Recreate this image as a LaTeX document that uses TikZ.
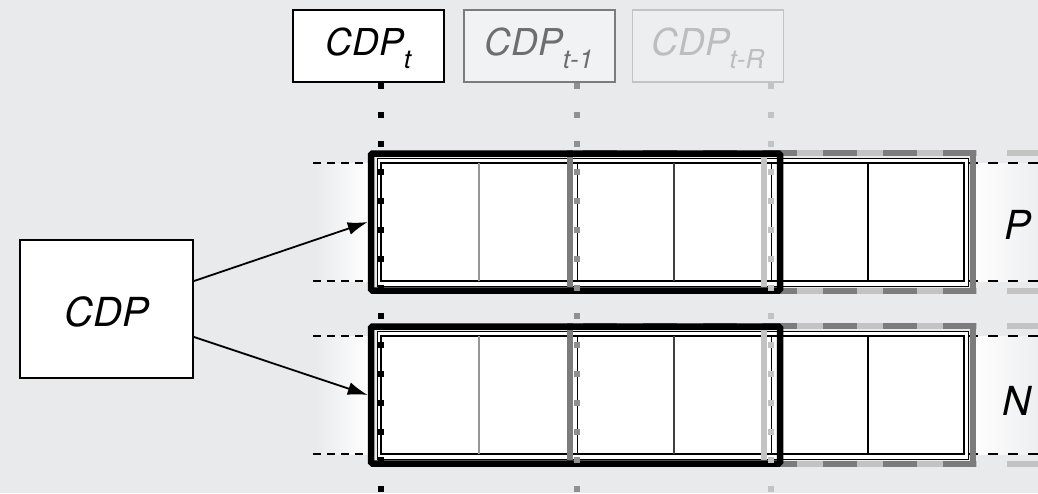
\documentclass[tikz,border=0pt]{standalone}
\usepackage{fontspec}
\setmainfont{TeX Gyre Heros}
\usetikzlibrary{calc,arrows.meta}
\definecolor{bg}{HTML}{E9EAEC}
\definecolor{boxone}{HTML}{F0F2F3}
\definecolor{boxtwo}{HTML}{EDEEF0}
\definecolor{midgray}{HTML}{7C7C7C}
\definecolor{litegray}{HTML}{C3C3C3}
\definecolor{txtone}{HTML}{6E6E6E}
\definecolor{txttwo}{HTML}{BDBDBD}
\newcommand\mysub[1]{\raisebox{-13pt}{\fontsize{26}{26}\selectfont #1}}
\begin{document}
\begin{tikzpicture}[x=1pt,y=-1pt,
  topbox/.style={minimum width=151pt, minimum height=72pt, inner sep=0pt,
    text height=27pt, text depth=9pt, font=\fontsize{37}{40}\selectfont\itshape},
  mainbox/.style={draw=black, line width=1.5pt, fill=white, minimum width=173pt,
    minimum height=138pt, inner sep=0pt, text height=35pt, text depth=0pt,
    font=\fontsize{40}{44}\selectfont\itshape},
  cellbox/.style={draw=black, line width=1.2pt, fill=white, minimum width=583pt,
    minimum height=118pt, inner sep=0pt},
  winbox/.style={draw=black, line width=6.5pt, rounded corners=1.5pt, minimum width=409pt,
    minimum height=137pt, inner sep=0pt},
  lab/.style={font=\fontsize{40}{44}\selectfont\itshape, inner sep=0pt},
  hdashL/.style={black, line width=1.2pt, dash pattern=on 8pt off 6pt},
  hdashR/.style={black, line width=1.2pt, dash pattern=on 10pt off 10pt},
  dotline/.style={line width=6pt, dash pattern=on 6pt off 22.8pt},
  arr/.style={black, line width=1.8pt, -{Latex[length=20pt,width=13pt]}}
]
\fill[bg] (0,0) rectangle (1038,493);
\useasboundingbox (0,0) rectangle (1038,493);
\clip (0,0) rectangle (1038,493);

% top boxes
\node[topbox, draw=black, line width=2pt, fill=white] (ct) at (368.5,46) {CDP\mysub{t}};
\node[topbox, draw=midgray, line width=2pt, fill=boxone, text=txtone] (ctone) at (539,46) {CDP\mysub{t-1}};
\node[topbox, draw=litegray, line width=1.5pt, fill=boxtwo, text=txttwo] (ctR) at (708,46) {CDP\mysub{t-R}};

% main box
\node[mainbox] (cdp) at (106.5,309) {CDP};

\foreach \r/\o in {P/0,N/173}{
  % fades
  \shade[left color=bg, right color=white] (315,{163+\o}) rectangle (369,{281+\o});
  \shade[left color=white, right color=bg!80!white] (972,{163+\o}) rectangle (1038,{281+\o});
  % dashed guides
  \draw[hdashL] (313,{163+\o}) -- (368,{163+\o});
  \draw[hdashL] (313,{281+\o}) -- (368,{281+\o});
  \draw[hdashR] (968,{163+\o}) -- (1038,{163+\o});
  \draw[hdashR] (968,{281+\o}) -- (1038,{281+\o});
  % cells
  \fill[white] (377,{158+\o}) rectangle (968,{286+\o});
  \draw[line width=0.8pt] (377,{158+\o}) rectangle (968,{286+\o});
  \node[cellbox] (\r cells) at (672.5,{222+\o}) {};
  \draw[midgray!80!white, line width=2pt] (479,{163+\o}) -- (479,{281+\o});
  \draw[black!75, line width=1.5pt] (674,{163+\o}) -- (674,{281+\o});
  \draw[black, line width=1.2pt] (868,{163+\o}) -- (868,{281+\o});
  \draw[black, line width=1pt] (577,{163+\o}) -- (577,{281+\o});
  \draw[black, line width=1pt] (771,{163+\o}) -- (771,{281+\o});
  % window t-R
  \draw[litegray, line width=6pt] (764,{150+\o}) -- (764,{294+\o});
  \draw[litegray, line width=6pt, dash pattern=on 213pt off 30pt on 400pt off 1pt] (764,{153+\o}) -- (1100,{153+\o});
  \draw[litegray, line width=6pt, dash pattern=on 213pt off 30pt on 400pt off 1pt] (764,{291+\o}) -- (1100,{291+\o});
  % window t-1
  \draw[midgray, line width=6pt] (570,{150+\o}) -- (570,{294+\o});
  \draw[midgray, line width=6pt, line cap=round] (973,{153+\o}) -- (973,{291+\o});
  \draw[midgray, line width=6pt, dash pattern=on 34pt off 26pt, dash phase=47pt] (570,{153+\o}) -- (976,{153+\o});
  \draw[midgray, line width=6pt, dash pattern=on 34pt off 26pt, dash phase=47pt] (570,{291+\o}) -- (976,{291+\o});
  % window t
  \node[winbox] (\r win) at (575.5,{222+\o}) {};
}

% dotted time lines
\coordinate (da) at (381,83);
\coordinate (db) at (577,83);
\coordinate (dc) at (771,83);
\coordinate (ea) at (381,493);
\coordinate (eb) at (577,493);
\coordinate (ec) at (771,493);
\draw[dotline, black] (da) -- (ea);
\draw[dotline, midgray!85!white] (db) -- (eb);
\draw[dotline, litegray] (dc) -- (ec);

% labels
\node[lab, anchor=base] (plab) at (1018,239) {P};
\node[lab, anchor=base] (nlab) at (1017,415) {N};

% arrows
\draw[arr] ($(cdp.north east)!0.3!(cdp.south east)$) -- (Pwin.west);
\draw[arr] ($(cdp.north east)!0.7!(cdp.south east)$) -- (Nwin.west);
\end{tikzpicture}
\end{document}
